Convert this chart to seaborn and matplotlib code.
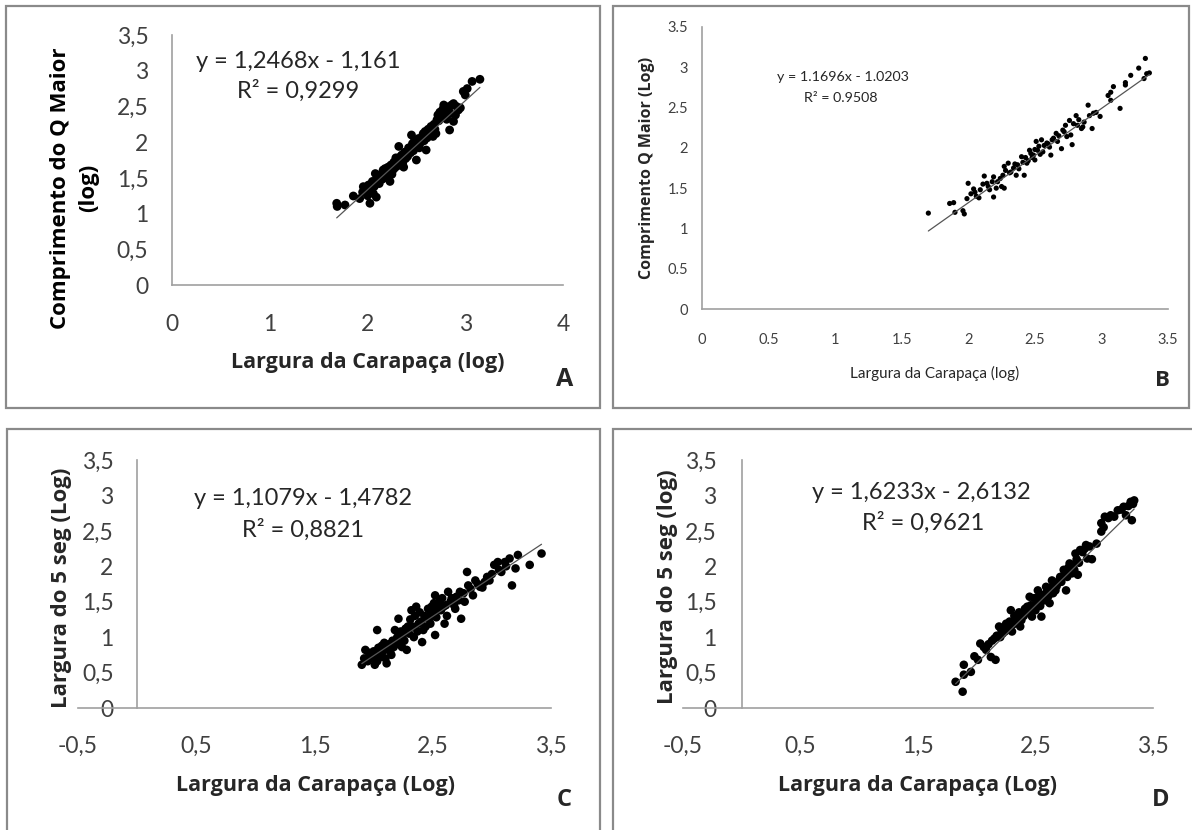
import numpy as np
import pandas as pd
import matplotlib
matplotlib.use("Agg")
import matplotlib.pyplot as plt
from matplotlib.patches import Rectangle
import seaborn as sns

# ---------------- data ----------------
a_x = [1.685, 1.69, 1.77, 1.855, 1.92, 1.957, 2.01, 2.025, 2.06, 2.09, 2.08, 2.13, 2.16, 2.21, 2.23,
       2.26, 2.30, 2.32, 2.33, 2.37, 2.40, 2.43, 2.45, 2.49, 2.50, 2.54, 2.57, 2.60, 2.64, 2.67, 2.71,
       2.72, 2.78, 2.83, 2.88, 2.88, 2.84, 2.93, 2.98, 3.02, 3.07, 3.15, 3.00,
       1.95, 1.98, 2.00, 2.03, 2.05, 2.07, 2.10, 2.12, 2.14, 2.15, 2.17, 2.18, 2.19, 2.20, 2.22, 2.24,
       2.25, 2.27, 2.28, 2.29, 2.31, 2.34, 2.35, 2.36, 2.38, 2.39, 2.41, 2.42, 2.44, 2.46, 2.47, 2.48,
       2.51, 2.52, 2.53, 2.55, 2.56, 2.58, 2.59, 2.61, 2.62, 2.63, 2.65, 2.66, 2.68, 2.69, 2.70, 2.73,
       2.74, 2.76, 2.77, 2.79, 2.80, 2.81, 2.82, 2.85, 2.86, 2.90, 2.91, 2.95]
a_y = [1.144, 1.10, 1.12, 1.246, 1.21, 1.377, 1.40, 1.144, 1.28, 1.23, 1.56, 1.51, 1.61, 1.65, 1.45,
       1.61, 1.70, 1.94, 1.79, 1.65, 1.84, 1.89, 2.10, 1.94, 1.75, 2.03, 2.12, 1.89, 2.19, 2.08, 2.31,
       2.38, 2.52, 2.47, 2.54, 2.29, 2.17, 2.45, 2.71, 2.75, 2.85, 2.88, 2.66,
       1.30, 1.35, 1.25, 1.33, 1.45, 1.38, 1.50, 1.42, 1.55, 1.48, 1.52, 1.63, 1.57, 1.50, 1.60, 1.68,
       1.55, 1.72, 1.64, 1.78, 1.67, 1.74, 1.82, 1.71, 1.86, 1.77, 1.80, 1.92, 1.85, 1.98, 1.88, 2.02,
       1.96, 2.05, 1.92, 2.00, 2.08, 2.02, 2.15, 2.06, 2.18, 2.10, 2.22, 2.14, 2.25, 2.18, 2.12, 2.30,
       2.42, 2.35, 2.46, 2.40, 2.50, 2.32, 2.44, 2.40, 2.52, 2.38, 2.50, 2.48]

b_x = [1.70, 1.86, 1.89, 1.90, 1.96, 1.97, 1.999, 1.99, 2.02, 2.04, 2.06, 2.09, 2.12, 2.14, 2.16,
       2.19, 2.19, 2.22, 2.25, 2.27, 2.27, 2.30, 2.31, 2.34, 2.36, 2.37, 2.40, 2.42, 2.44, 2.46, 2.49,
       2.50, 2.51, 2.52, 2.55, 2.56, 2.59, 2.61, 2.62, 2.63, 2.66, 2.67, 2.70, 2.71, 2.73, 2.76, 2.77,
       2.78, 2.81, 2.82, 2.85, 2.87, 2.90, 2.91, 2.93, 2.94, 2.99, 3.05, 3.07, 3.07, 3.09, 3.14, 3.18,
       3.18, 3.22, 3.28, 3.32, 3.33, 3.34, 3.36,
       2.05, 2.08, 2.11, 2.15, 2.18, 2.21, 2.24, 2.26, 2.28, 2.32, 2.35, 2.38, 2.41, 2.43, 2.45, 2.47,
       2.48, 2.50, 2.53, 2.54, 2.57, 2.60, 2.64, 2.68, 2.72, 2.74, 2.79, 2.83, 2.86, 2.96]
b_y = [1.19, 1.31, 1.32, 1.20, 1.22, 1.18, 1.56, 1.37, 1.43, 1.49, 1.40, 1.48, 1.65, 1.56, 1.48,
       1.39, 1.64, 1.58, 1.52, 1.50, 1.77, 1.81, 1.69, 1.75, 1.66, 1.79, 1.89, 1.66, 1.81, 1.97, 1.91,
       1.85, 2.08, 1.97, 2.10, 1.95, 2.06, 2.01, 1.91, 2.10, 2.18, 2.08, 1.99, 2.22, 2.28, 2.34, 2.16,
       2.04, 2.40, 2.28, 2.24, 2.32, 2.53, 2.40, 2.24, 2.43, 2.39, 2.65, 2.69, 2.59, 2.76, 2.49, 2.78,
       2.81, 2.90, 2.99, 2.86, 3.11, 2.92, 2.93,
       1.45, 1.38, 1.55, 1.52, 1.58, 1.50, 1.62, 1.66, 1.72, 1.70, 1.80, 1.74, 1.82, 1.88, 1.84, 1.93,
       1.88, 1.98, 2.02, 1.92, 2.03, 2.05, 2.12, 2.15, 2.20, 2.14, 2.30, 2.35, 2.26, 2.44]

c_x = [1.90, 1.93, 1.97, 2.01, 2.03, 2.05, 2.07, 2.11, 2.12, 2.15, 2.18, 2.19, 2.21, 2.24, 2.25,
       2.28, 2.29, 2.32, 2.34, 2.36, 2.38, 2.41, 2.42, 2.45, 2.48, 2.49, 2.52, 2.52, 2.55, 2.56, 2.59,
       2.60, 2.63, 2.65, 2.69, 2.70, 2.74, 2.73, 2.77, 2.79, 2.80, 2.84, 2.86, 2.90, 2.94, 2.98, 3.00,
       3.02, 3.05, 3.08, 3.11, 3.15, 3.17, 3.20, 3.22, 3.32, 3.42,
       1.92, 1.95, 1.96, 1.99, 2.00, 2.02, 2.03, 2.04, 2.06, 2.08, 2.09, 2.10, 2.13, 2.14, 2.16, 2.17,
       2.20, 2.22, 2.23, 2.26, 2.27, 2.30, 2.31, 2.33, 2.35, 2.37, 2.39, 2.40, 2.43, 2.44, 2.46, 2.47,
       2.50, 2.51, 2.53, 2.54, 2.57, 2.58, 2.61, 2.62, 2.66, 2.68, 2.72, 2.76, 2.82, 2.88, 2.92, 2.96,
       3.06, 3.12]
c_y = [0.61, 0.82, 0.74, 0.61, 1.10, 0.77, 0.88, 0.63, 0.84, 0.75, 1.10, 0.96, 1.26, 0.86, 1.05,
       0.82, 1.15, 1.38, 1.00, 1.43, 1.19, 0.93, 1.10, 1.29, 1.19, 1.43, 1.59, 1.03, 1.38, 1.52, 1.43,
       1.19, 1.64, 1.50, 1.40, 1.57, 1.26, 1.64, 1.50, 1.92, 1.73, 1.59, 1.80, 1.71, 1.78, 1.80, 1.89,
       2.02, 2.06, 1.92, 2.06, 2.11, 1.73, 1.97, 2.16, 2.02, 2.18,
       0.70, 0.66, 0.78, 0.70, 0.80, 0.74, 0.66, 0.85, 0.72, 0.80, 0.92, 0.70, 0.90, 0.80, 0.95, 0.86,
       1.00, 0.90, 1.08, 0.95, 1.12, 1.05, 1.25, 1.15, 1.30, 1.08, 1.35, 1.22, 1.30, 1.15, 1.40, 1.25,
       1.35, 1.48, 1.28, 1.45, 1.38, 1.55, 1.45, 1.30, 1.55, 1.45, 1.52, 1.62, 1.68, 1.75, 1.70, 1.85,
       1.95, 2.00]

d_x = [1.82, 1.88, 1.89, 1.89, 1.95, 1.98, 2.01, 2.03, 2.06, 2.12, 2.16, 2.15, 2.19, 2.22, 2.25,
       2.29, 2.30, 2.33, 2.37, 2.39, 2.43, 2.45, 2.47, 2.50, 2.52, 2.55, 2.56, 2.59, 2.62, 2.64, 2.67,
       2.70, 2.74, 2.76, 2.79, 2.81, 2.84, 2.86, 2.88, 2.93, 2.94, 2.98, 3.02, 3.06, 3.06, 3.09, 3.14,
       3.20, 3.25, 3.27, 3.31, 3.32, 3.34,
       2.08, 2.10, 2.13, 2.17, 2.20, 2.21, 2.24, 2.26, 2.28, 2.31, 2.32, 2.34, 2.36, 2.38, 2.40, 2.41,
       2.44, 2.46, 2.48, 2.49, 2.51, 2.53, 2.54, 2.57, 2.58, 2.60, 2.61, 2.63, 2.65, 2.66, 2.68, 2.71,
       2.72, 2.75, 2.77, 2.78, 2.80, 2.82, 2.83, 2.85, 2.87, 2.90, 2.92, 2.96, 3.08, 3.12, 3.17, 3.23,
       3.29, 3.33]
d_y = [0.37, 0.23, 0.61, 0.47, 0.51, 0.73, 0.68, 0.91, 0.86, 0.72, 0.68, 0.98, 1.15, 1.05, 1.19,
       1.38, 1.08, 1.24, 1.15, 1.33, 1.43, 1.57, 1.29, 1.38, 1.66, 1.29, 1.52, 1.71, 1.48, 1.80, 1.66,
       1.80, 1.95, 1.66, 2.04, 1.90, 2.18, 1.88, 2.23, 2.30, 2.11, 2.10, 2.32, 2.49, 2.61, 2.70, 2.72,
       2.79, 2.84, 2.72, 2.91, 2.65, 2.93,
       0.82, 0.90, 0.95, 1.02, 1.00, 1.10, 1.08, 1.15, 1.22, 1.18, 1.30, 1.28, 1.35, 1.24, 1.30, 1.40,
       1.36, 1.45, 1.42, 1.55, 1.48, 1.58, 1.44, 1.60, 1.52, 1.65, 1.58, 1.70, 1.62, 1.75, 1.72, 1.85,
       1.78, 1.90, 1.85, 1.98, 1.92, 2.02, 1.95, 2.10, 2.05, 2.20, 2.25, 2.28, 2.55, 2.68, 2.70, 2.80,
       2.85, 2.88]

slopes = [1.2468, 1.1696, 1.1079, 1.6233]
intercepts = [-1.161, -1.0203, -1.4782, -2.6132]
equations = ["y = 1,2468x - 1,161", "y = 1.1696x - 1.0203", "y = 1,1079x - 1,4782", "y = 1,6233x - 2,6132"]
r2_texts = ["R² = 0,9299", "R² = 0.9508", "R² = 0,8821", "R² = 0,9621"]
panel_letters = ["A", "B", "C", "D"]
x_titles = ["Largura da Carapaça (log)", "Largura da Carapaça (log)",
            "Largura da Carapaça (Log)", "Largura da Carapaça (Log)"]
y_titles = ["Comprimento do Q Maior\n(log)", "Comprimento Q Maior (Log)",
            "Largura do 5 seg (Log)", "Largura do 5 seg (log)"]

a_xticks = [0, 1, 2, 3, 4]
a_xlabels = ["0", "1", "2", "3", "4"]
comma_yticks = [0, 0.5, 1, 1.5, 2, 2.5, 3, 3.5]
comma_ylabels = ["0", "0,5", "1", "1,5", "2", "2,5", "3", "3,5"]
b_xticks = [0, 0.5, 1, 1.5, 2, 2.5, 3, 3.5]
b_xlabels = ["0", "0.5", "1", "1.5", "2", "2.5", "3", "3.5"]
b_ylabels = ["0", "0.5", "1", "1.5", "2", "2.5", "3", "3.5"]
cd_xticks = [-0.5, 0.5, 1.5, 2.5, 3.5]
cd_xlabels = ["-0,5", "0,5", "1,5", "2,5", "3,5"]

# ---------------- figure ----------------
sns.set_theme(style="white")
plt.rcParams["font.family"] = ["Lato", "DejaVu Sans"]
TITLE_FONT = ["Open Sans", "DejaVu Sans"]

W, H = 1192, 830
fig = plt.figure(figsize=(W / 100, H / 100), dpi=100)
fig.patch.set_facecolor("white")


def fx(px):
    return px / W


def fy(py):
    return 1 - py / H


def add_axes_px(x0, x1, y_top, y_bot):
    return fig.add_axes([fx(x0), fy(y_bot), (x1 - x0) / W, (y_bot - y_top) / H])


# panel borders
for (x0, y0, x1, y1) in [(6, 6, 600, 408), (613, 6, 1189, 408), (7, 429, 600, 840), (613, 429, 1200, 840)]:
    fig.add_artist(Rectangle((fx(x0), fy(y1)), (x1 - x0) / W, (y1 - y0) / H,
                             transform=fig.transFigure, fill=False,
                             edgecolor="#8a8a8a", linewidth=1.6, clip_on=False))

axA = add_axes_px(172, 563, 35, 285)
axB = add_axes_px(702, 1168, 27, 309)
axC = add_axes_px(78, 551, 460, 708)
axD = add_axes_px(683, 1153, 460, 708)

panels = [
    dict(ax=axA, x=a_x, y=a_y, s=40, xlim=(0, 4), xt=a_xticks, xl=a_xlabels, yl=comma_ylabels,
         tfs=16.5, xpad=21, ypad=17),
    dict(ax=axB, x=b_x, y=b_y, s=14, xlim=(0, 3.5), xt=b_xticks, xl=b_xlabels, yl=b_ylabels,
         tfs=10.5, xpad=17.5, ypad=10),
    dict(ax=axC, x=c_x, y=c_y, s=38, xlim=(-0.5, 3.5), xt=cd_xticks, xl=cd_xlabels, yl=comma_ylabels,
         tfs=16.5, xpad=20, ypad=17),
    dict(ax=axD, x=d_x, y=d_y, s=38, xlim=(-0.5, 3.5), xt=cd_xticks, xl=cd_xlabels, yl=comma_ylabels,
         tfs=16.5, xpad=20, ypad=18),
]

for i, p in enumerate(panels):
    ax = p["ax"]
    df = pd.DataFrame({"x": p["x"], "y": p["y"]})
    sns.scatterplot(data=df, x="x", y="y", ax=ax, color="black", s=p["s"],
                    edgecolor="none", linewidth=0, zorder=2)
    xs = np.array([min(p["x"]), max(p["x"])])
    ax.plot(xs, slopes[i] * xs + intercepts[i], color="#555555", linewidth=0.9, zorder=3)
    ax.set_xlim(*p["xlim"])
    ax.set_ylim(0, 3.5)
    ax.set_xticks(p["xt"])
    ax.set_xticklabels(p["xl"])
    ax.set_yticks(comma_yticks)
    ax.set_yticklabels(p["yl"])
    ax.set_xlabel("")
    ax.set_ylabel("")
    ax.set_facecolor("none")
    for side in ["top", "right"]:
        ax.spines[side].set_visible(False)
    ax.spines["left"].set_position(("data", 0))
    for side in ["left", "bottom"]:
        ax.spines[side].set_color("#a0a0a0")
        ax.spines[side].set_linewidth(1.2)
    ax.tick_params(axis="both", length=0, labelsize=p["tfs"], labelcolor="#404040")
    ax.tick_params(axis="x", pad=p["xpad"])
    ax.tick_params(axis="y", pad=p["ypad"])
    ax.grid(False)

# axis titles, equations, panel letters
fig.text(fx(75), fy(188), y_titles[0], rotation=90, ha="center", va="center", fontsize=16,
         fontweight="bold", multialignment="center", linespacing=1.45, color="black", family=TITLE_FONT)
fig.text(fx(368), fy(362), x_titles[0], ha="center", va="center", fontsize=15.5, fontweight="bold",
         family=TITLE_FONT)
fig.text(fx(565), fy(380), panel_letters[0], ha="center", va="center", fontsize=18, fontweight="bold",
         family=TITLE_FONT)
fig.text(fx(298), fy(62), equations[0], ha="center", va="center", fontsize=17, color="#262626")
fig.text(fx(298), fy(91), r2_texts[0], ha="center", va="center", fontsize=17, color="#262626")

fig.text(fx(647), fy(168), y_titles[1], rotation=90, ha="center", va="center", fontsize=11.5,
         fontweight="bold", family=TITLE_FONT)
fig.text(fx(935), fy(373), x_titles[1], ha="center", va="center", fontsize=11)
fig.text(fx(1162), fy(380), panel_letters[1], ha="center", va="center", fontsize=16, fontweight="bold",
         family=TITLE_FONT)
fig.text(fx(843), fy(77), equations[1], ha="center", va="center", fontsize=10.3, color="#262626")
fig.text(fx(841), fy(98), r2_texts[1], ha="center", va="center", fontsize=10.3, color="#262626")

fig.text(fx(61), fy(588), y_titles[2], rotation=90, ha="center", va="center", fontsize=16,
         fontweight="bold", family=TITLE_FONT)
fig.text(fx(316), fy(785), x_titles[2], ha="center", va="center", fontsize=15.5, fontweight="bold",
         family=TITLE_FONT)
fig.text(fx(564), fy(800), panel_letters[2], ha="center", va="center", fontsize=17, fontweight="bold",
         family=TITLE_FONT)
fig.text(fx(303), fy(498), equations[2], ha="center", va="center", fontsize=17, color="#262626")
fig.text(fx(303), fy(530), r2_texts[2], ha="center", va="center", fontsize=17, color="#262626")

fig.text(fx(668), fy(587), y_titles[3], rotation=90, ha="center", va="center", fontsize=16,
         fontweight="bold", family=TITLE_FONT)
fig.text(fx(918), fy(785), x_titles[3], ha="center", va="center", fontsize=15.5, fontweight="bold",
         family=TITLE_FONT)
fig.text(fx(1161), fy(800), panel_letters[3], ha="center", va="center", fontsize=17, fontweight="bold",
         family=TITLE_FONT)
fig.text(fx(921), fy(492), equations[3], ha="center", va="center", fontsize=17, color="#262626")
fig.text(fx(923), fy(523), r2_texts[3], ha="center", va="center", fontsize=17, color="#262626")

fig.savefig("out.png", dpi=100, facecolor="white")
